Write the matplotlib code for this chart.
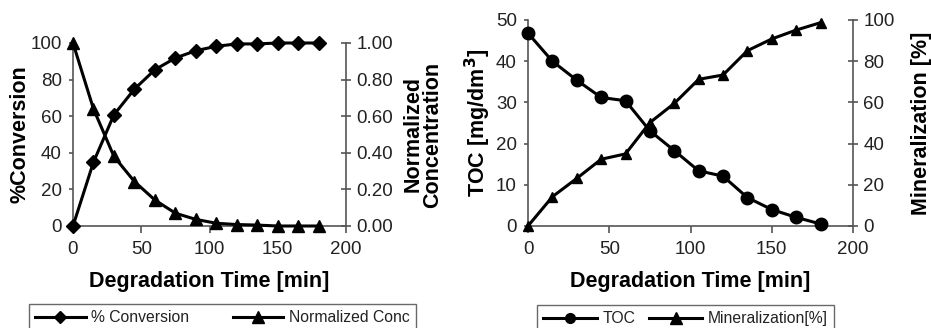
import matplotlib
matplotlib.use("Agg")
import matplotlib.pyplot as plt
from matplotlib.lines import Line2D

plt.rcParams['font.family'] = ['Liberation Sans', 'DejaVu Sans']

# ---- data ----
time_left = [0, 15, 30, 45, 60, 75, 90, 105, 120, 135, 150, 165, 180]
conversion = [0, 34.9, 60.8, 74.8, 85.4, 91.8, 95.8, 98.2, 99.5, 99.5, 100, 100, 100]
norm_conc = [1.0, 0.64, 0.38, 0.243, 0.142, 0.07, 0.036, 0.015, 0.008, 0.005, 0.0, 0.0, 0.0]

time_right = [0, 15, 30, 45, 60, 75, 90, 105, 120, 135, 150, 165, 180]
toc = [46.8, 40.0, 35.4, 31.2, 30.4, 23.1, 18.3, 13.4, 12.1, 6.9, 4.0, 2.1, 0.5]
mineral = [0, 14.2, 23.1, 32.4, 35.0, 50.2, 59.5, 71.2, 73.3, 85.1, 90.8, 95.1, 98.7]

x_ticks = [0, 50, 100, 150, 200]
conv_ticks = [0, 20, 40, 60, 80, 100]
conc_ticks = [0.0, 0.2, 0.4, 0.6, 0.8, 1.0]
toc_ticks = [0, 10, 20, 30, 40, 50]
min_ticks = [0, 20, 40, 60, 80, 100]

W, H = 931, 328
fig = plt.figure(figsize=(W / 100, H / 100), dpi=100)

spine_c = '#555555'
txt_c = '#222222'
tick_fs = 13.5
lab_fs = 15.5
leg_fs = 11.3


def style(ax):
    ax.spines['top'].set_visible(False)
    for s in ['left', 'right', 'bottom']:
        ax.spines[s].set_color(spine_c)
        ax.spines[s].set_linewidth(1.2)
    ax.tick_params(colors=spine_c, labelcolor=txt_c, labelsize=tick_fs, width=1.2, length=5)


# ---- left panel ----
ax1 = fig.add_axes([73 / W, 1 - 226 / H, (346 - 73) / W, (226 - 43) / H])
ax1.plot(time_left, conversion, color='black', lw=2.2, marker='D', ms=7, clip_on=False, zorder=3)
ax1.set_xlim(0, 200)
ax1.set_ylim(0, 100)
ax1.set_xticks(x_ticks)
ax1.set_yticks(conv_ticks)
style(ax1)
ax1.spines['right'].set_visible(False)
ax1.tick_params(axis='x', direction='out', pad=6)
ax1.tick_params(axis='y', direction='out', length=3, pad=5)
ax1.set_xlabel('Degradation Time [min]', fontsize=lab_fs, fontweight='bold', labelpad=9)
ax1.set_ylabel('%Conversion', fontsize=lab_fs, fontweight='bold', labelpad=0)

ax1b = ax1.twinx()
ax1b.plot(time_left, norm_conc, color='black', lw=2.2, marker='^', ms=9, clip_on=False, zorder=3)
ax1b.set_ylim(0, 1.0)
ax1b.set_yticks(conc_ticks)
ax1b.set_yticklabels([f'{v:.2f}' for v in conc_ticks])
style(ax1b)
ax1b.spines['left'].set_visible(False)
ax1b.spines['bottom'].set_visible(False)
ax1b.tick_params(axis='y', direction='inout', length=7, pad=4)
ax1b.set_ylabel('Normalized\nConcentration', fontsize=lab_fs, fontweight='bold', labelpad=7, linespacing=0.92)

# ---- right panel ----
ax2 = fig.add_axes([528 / W, 1 - 226 / H, (853 - 528) / W, (226 - 20) / H])
ax2.plot(time_right, toc, color='black', lw=2.2, marker='o', ms=9, clip_on=False, zorder=3)
ax2.set_xlim(0, 200)
ax2.set_ylim(0, 50)
ax2.set_xticks(x_ticks)
ax2.set_yticks(toc_ticks)
style(ax2)
ax2.spines['right'].set_visible(False)
ax2.tick_params(axis='x', direction='out', pad=6)
ax2.tick_params(axis='y', direction='out', length=3, pad=5)
ax2.set_xlabel('Degradation Time [min]', fontsize=lab_fs, fontweight='bold', labelpad=9)
ax2.set_ylabel('TOC [mg/dm$^\\mathbf{3}$]', fontsize=lab_fs, fontweight='bold', labelpad=2)

ax2b = ax2.twinx()
ax2b.plot(time_right, mineral, color='black', lw=2.2, marker='^', ms=7, clip_on=False, zorder=3)
ax2b.set_ylim(0, 100)
ax2b.set_yticks(min_ticks)
style(ax2b)
ax2b.spines['left'].set_visible(False)
ax2b.spines['bottom'].set_visible(False)
ax2b.tick_params(axis='y', direction='inout', length=7, pad=4)
ax2b.set_ylabel('Mineralization [%]', fontsize=lab_fs, fontweight='bold', labelpad=12)

# ---- legends ----
h1 = [Line2D([], [], color='black', lw=2.2, marker='D', ms=6),
      Line2D([], [], color='black', lw=2.2, marker='^', ms=8)]
leg1 = fig.legend(h1, ['% Conversion', 'Normalized Conc'], loc='upper left',
                  bbox_to_anchor=(29 / W, 1 - 304 / H), ncol=2, fontsize=leg_fs,
                  frameon=True, fancybox=False, edgecolor='#444444', borderpad=0.4,
                  handlelength=3.2, handletextpad=0.35, columnspacing=2.8, borderaxespad=0)
leg1.get_frame().set_linewidth(1.0)
for t in leg1.get_texts():
    t.set_color(txt_c)

h2 = [Line2D([], [], color='black', lw=2.2, marker='o', ms=7),
      Line2D([], [], color='black', lw=2.2, marker='^', ms=8)]
leg2 = fig.legend(h2, ['TOC', 'Mineralization[%]'], loc='upper left',
                  bbox_to_anchor=(537 / W, 1 - 305 / H), ncol=2, fontsize=leg_fs,
                  frameon=True, fancybox=False, edgecolor='#444444', borderpad=0.4,
                  handlelength=3.4, handletextpad=0.35, columnspacing=0.9, borderaxespad=0)
leg2.get_frame().set_linewidth(1.0)
for t in leg2.get_texts():
    t.set_color(txt_c)

fig.savefig('out.png', dpi=100)
